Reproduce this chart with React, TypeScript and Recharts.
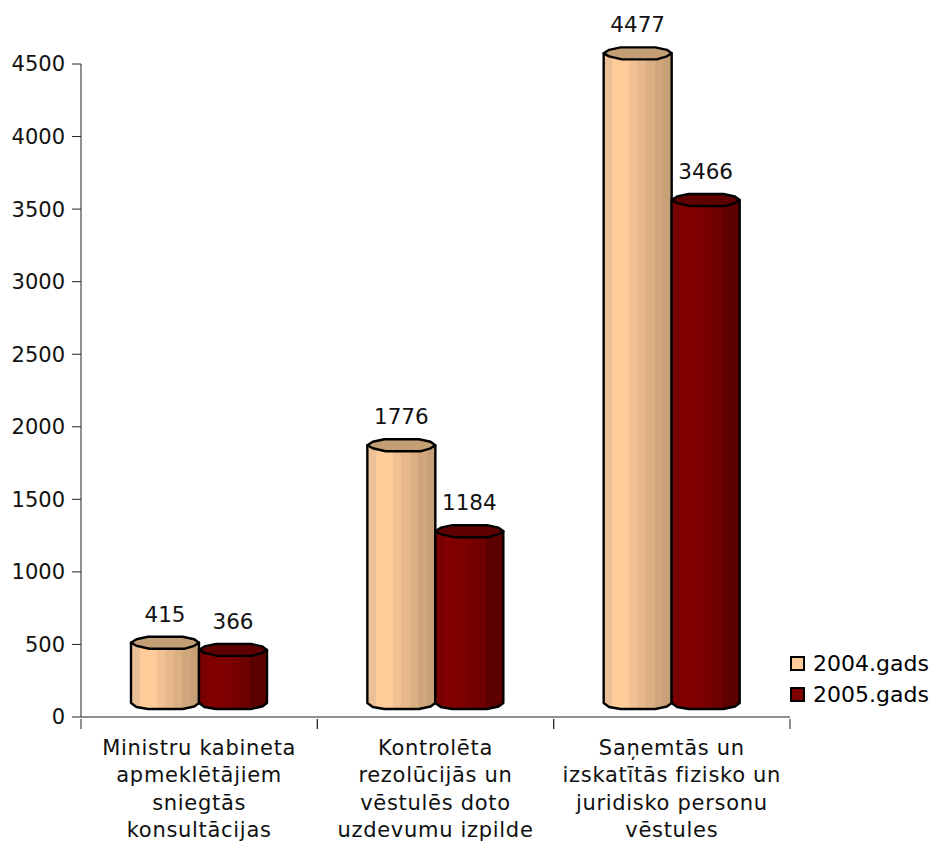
import { BarChart, Bar, XAxis, YAxis, Legend, LabelList } from "recharts";

const categories = [
  "Ministru kabineta\napmeklētājiem\nsniegtās\nkonsultācijas",
  "Kontrolēta\nrezolūcijās un\nvēstulēs doto\nuzdevumu izpilde",
  "Saņemtās un\nizskatītās fizisko un\njuridisko personu\nvēstules",
];
const values2004 = [415, 1776, 4477];
const values2005 = [366, 1184, 3466];
const yTicks = [0, 500, 1000, 1500, 2000, 2500, 3000, 3500, 4000, 4500];

const font = "'DejaVu Sans', Verdana, sans-serif";
const chartWidth = 932;
const margin = { top: 64, right: 142, bottom: 0, left: 0 };
const bandWidth = (chartWidth - 81 - margin.right) / categories.length;

// the "3D" cylinder floats a bit above the axis, like in the old Excel chart
const lift = 14;
const capHalf = 6;

const tanBands = ["#ecc096", "#ffcc99", "#ffcc99", "#f0c192", "#e6b88b", "#dcb085", "#d0a67d", "#c8a078"];
const redBands = ["#780000", "#800000", "#800000", "#7c0000", "#760000", "#6e0000", "#5c0000", "#5c0000"];

const rows = categories.map((name, i) => ({
  name,
  y2004: values2004[i],
  y2005: values2005[i],
}));

function Bands({ id, colors }: { id: string; colors: string[] }) {
  return (
    <linearGradient id={id} x1="0" y1="0" x2="1" y2="0">
      {colors.flatMap((c, i) => [
        <stop key={i + "a"} offset={i / colors.length} stopColor={c} />,
        <stop key={i + "b"} offset={(i + 1) / colors.length} stopColor={c} />,
      ])}
    </linearGradient>
  );
}

function cylinder(gradient: string, capColor: string) {
  return (props: any) => {
    const { x, y, width: w, height: h } = props;
    const top = y - lift;
    const bottom = y + h - lift;
    const body = [
      `M${x},${top}`,
      `L${x},${bottom}`,
      `L${x + 0.08 * w},${bottom + 4}`,
      `L${x + 0.25 * w},${bottom + capHalf}`,
      `L${x + 0.76 * w},${bottom + capHalf}`,
      `L${x + 0.93 * w},${bottom + 3.5}`,
      `L${x + w},${bottom}`,
      `L${x + w},${top}`,
      "Z",
    ].join(" ");
    const cap = [
      `M${x},${top}`,
      `L${x + 0.08 * w},${top - 3.5}`,
      `L${x + 0.25 * w},${top - capHalf}`,
      `L${x + 0.76 * w},${top - capHalf}`,
      `L${x + 0.93 * w},${top - 3.5}`,
      `L${x + w},${top}`,
      `L${x + 0.93 * w},${top + 3}`,
      `L${x + 0.78 * w},${top + capHalf}`,
      `L${x + 0.27 * w},${top + capHalf}`,
      `L${x + 0.08 * w},${top + 3}`,
      "Z",
    ].join(" ");
    return (
      <g stroke="#000" strokeWidth={2.4} strokeLinejoin="round">
        <path d={body} fill={`url(#${gradient})`} />
        <path d={cap} fill={capColor} />
      </g>
    );
  };
}

function CategoryTick({ x, y, payload }: any) {
  const lines: string[] = String(payload.value).split("\n");
  return (
    <g>
      <line x1={x - bandWidth / 2} x2={x - bandWidth / 2} y1={y} y2={y + 10} stroke="#222" />
      <line x1={x + bandWidth / 2} x2={x + bandWidth / 2} y1={y} y2={y + 10} stroke="#222" />
      {lines.map((line, i) => (
        <text
          key={i}
          x={x}
          y={y + 36 + i * 27.3}
          textAnchor="middle"
          fontSize={21}
          letterSpacing={0.7}
          fontFamily={font}
          fill="#111"
        >
          {line}
        </text>
      ))}
    </g>
  );
}

function LegendBox({ payload }: any) {
  return (
    <div style={{ fontFamily: font, fontSize: 22, color: "#000" }}>
      {(payload || []).map((item: any) => (
        <div key={item.value} style={{ display: "flex", alignItems: "center", height: 31 }}>
          <span
            style={{
              width: 11,
              height: 11,
              border: "2px solid #000",
              background: item.value === "2004.gads" ? "#ffcc99" : "#800000",
              marginRight: 8,
            }}
          />
          {item.value}
        </div>
      ))}
    </div>
  );
}

export default function App() {
  return (
    <div style={{ position: "absolute", left: 0, top: 0, background: "#fff" }}>
      <BarChart
        width={chartWidth}
        height={841}
        data={rows}
        margin={margin}
        barGap={0}
        barCategoryGap={50}
      >
        <defs>
          <Bands id="tanBody" colors={tanBands} />
          <Bands id="redBody" colors={redBands} />
        </defs>
        <XAxis
          dataKey="name"
          interval={0}
          height={124}
          stroke="#222"
          tickLine={false}
          tickSize={0}
          tick={<CategoryTick />}
        />
        <YAxis
          domain={[0, 4500]}
          ticks={yTicks}
          width={81}
          stroke="#222"
          tickSize={9}
          tickMargin={7}
          tick={{ fill: "#111", fontSize: 21, fontFamily: font }}
        />
        <Legend
          layout="horizontal"
          align="center"
          verticalAlign="middle"
          wrapperStyle={{ left: 790, top: 648, width: 142, height: 62 }}
          content={<LegendBox />}
        />
        <Bar
          dataKey="y2004"
          name="2004.gads"
          fill="#ffcc99"
          isAnimationActive={false}
          shape={cylinder("tanBody", "#c49f76")}
        >
          <LabelList dataKey="y2004" position="top" offset={35} fill="#111" fontSize={21.5} fontFamily={font} />
        </Bar>
        <Bar
          dataKey="y2005"
          name="2005.gads"
          fill="#800000"
          isAnimationActive={false}
          shape={cylinder("redBody", "#5f0000")}
        >
          <LabelList dataKey="y2005" position="top" offset={35} fill="#111" fontSize={21.5} fontFamily={font} />
        </Bar>
      </BarChart>
    </div>
  );
}
